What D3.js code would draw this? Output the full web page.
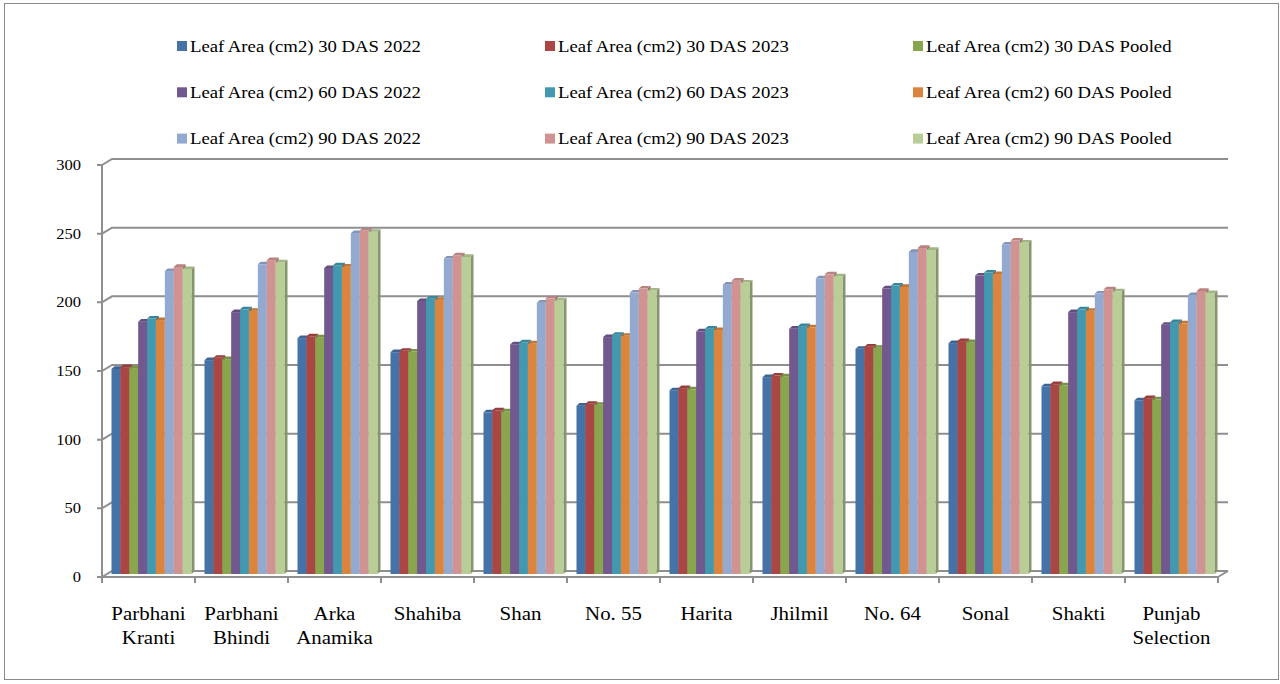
<!DOCTYPE html>
<html>
<head>
<meta charset="utf-8">
<script src="https://cdn.jsdelivr.net/npm/d3@7"></script>
<style>
  html, body { margin: 0; padding: 0; background: #fff; }
  svg { display: block; }
  text { font-family: "Liberation Serif", "Times New Roman", serif; fill: #000; }
</style>
</head>
<body>
<svg id="chart" width="1280" height="684"></svg>
<script>
// Okra varieties
const categories = [
  "Parbhani Kranti", "Parbhani Bhindi", "Arka Anamika", "Shahiba", "Shan", "No. 55",
  "Harita", "Jhilmil", "No. 64", "Sonal", "Shakti", "Punjab Selection"
];
const categoryLines = [
  ["Parbhani", "Kranti"], ["Parbhani", "Bhindi"], ["Arka", "Anamika"], ["Shahiba"], ["Shan"], ["No. 55"],
  ["Harita"], ["Jhilmil"], ["No. 64"], ["Sonal"], ["Shakti"], ["Punjab", "Selection"]
];

const seriesNames = [
  "Leaf Area (cm2) 30 DAS 2022", "Leaf Area (cm2) 30 DAS 2023", "Leaf Area (cm2) 30 DAS Pooled",
  "Leaf Area (cm2) 60 DAS 2022", "Leaf Area (cm2) 60 DAS 2023", "Leaf Area (cm2) 60 DAS Pooled",
  "Leaf Area (cm2) 90 DAS 2022", "Leaf Area (cm2) 90 DAS 2023", "Leaf Area (cm2) 90 DAS Pooled"
];

const das30_2022   = [149.3, 155.7, 171.7, 161.5, 117.7, 122.6, 133.8, 143.3, 164.0, 168.1, 136.7, 126.5];
const das30_2023   = [150.6, 157.4, 173.0, 162.5, 119.2, 123.9, 135.3, 144.5, 165.5, 169.6, 138.2, 128.0];
const das30_pooled = [149.9, 156.4, 172.4, 162.0, 118.4, 123.2, 134.5, 143.9, 164.7, 168.8, 137.4, 127.2];
const das60_2022   = [183.7, 190.7, 222.8, 198.8, 167.2, 172.5, 176.6, 178.6, 208.0, 217.3, 190.7, 181.5];
const das60_2023   = [186.0, 192.7, 224.8, 200.5, 168.6, 174.2, 178.6, 180.5, 210.0, 219.5, 192.7, 183.4];
const das60_pooled = [184.9, 191.7, 223.8, 199.7, 167.9, 173.4, 177.6, 179.6, 209.0, 218.4, 191.7, 182.5];
const das90_2022   = [220.6, 225.5, 248.2, 229.7, 197.6, 204.9, 210.7, 215.3, 234.5, 239.9, 204.2, 203.1];
const das90_2023   = [223.6, 228.5, 250.1, 232.1, 200.7, 207.8, 213.6, 218.2, 237.4, 242.8, 207.3, 206.1];
const das90_pooled = [222.1, 227.0, 249.2, 230.9, 199.2, 206.4, 212.2, 216.8, 236.0, 241.4, 205.8, 204.6];

const seriesValues = [
  das30_2022, das30_2023, das30_pooled,
  das60_2022, das60_2023, das60_pooled,
  das90_2022, das90_2023, das90_pooled
];

const seriesColors = [
  "#4572A7", "#AA4643", "#89A54E",
  "#71588F", "#4198AF", "#DB843D",
  "#93A9CF", "#D19392", "#B9CD96"
];

const yTicks = [0, 50, 100, 150, 200, 250, 300];

// ---- layout ----
const svg = d3.select("#chart");
const left = 102, right = 1218, floorY = 577, topY = 165;
const depthX = 10, depthY = -6;         // front-to-back offset of the 3D box
const stretch = 1.1;                    // wide text face
const gridColor = "#8f8f8f";

const x = d3.scaleBand().domain(categories).range([left, right]).padding(0);
const xInner = d3.scaleBand().domain(d3.range(seriesNames.length))
  .range([9.5, 9.5 + 80]).padding(0);
const y = d3.scaleLinear().domain([0, 300]).range([floorY, topY]);
const yBar = v => y(v) + depthY / 2;   // bars stand midway in depth

// outer frame
svg.append("rect")
  .attr("x", 4.5).attr("y", 3.5).attr("width", 1274).attr("height", 676)
  .attr("fill", "none").attr("stroke", "#8a8a8a").attr("stroke-width", 1);

// back-wall grid lines with side-wall diagonals and left ticks
const grid = svg.append("g").attr("fill", "none").attr("stroke", gridColor).attr("stroke-width", 2);
yTicks.forEach(v => {
  const yy = y(v);
  grid.append("path").attr("d", d3.line()([
    [left - 5, yy], [left, yy], [left + depthX, yy + depthY], [right + depthX, yy + depthY]
  ]));
});
// right edge of the floor
grid.append("path").attr("d", d3.line()([[right + depthX, floorY + depthY], [right, floorY]]));
// vertical axis
grid.append("path").attr("d", d3.line()([[left, y(300)], [left, floorY]]));
// front floor edge and category ticks
grid.append("path").attr("d", d3.line()([[left, floorY], [right, floorY]]));
const boundaries = categories.map(c => x(c)).concat([right]);
boundaries.forEach(bx => {
  grid.append("path").attr("d", d3.line()([[bx, floorY], [bx, floorY + 6]]));
});

// y tick labels
svg.append("g").selectAll("text").data(yTicks).join("text")
  .attr("text-anchor", "end")
  .attr("font-size", 15)
  .attr("transform", d => `translate(81,${y(d) + 5}) scale(${stretch},1)`)
  .text(d => d);

// bars: front face, right side, top
const dx = 3, dy = -2.6;
const bars = svg.append("g");
categories.forEach((cat, i) => {
  seriesValues.forEach((vals, j) => {
    const v = vals[i];
    const bx = x(cat) + xInner(j);
    const w = xInner.bandwidth();
    const yt = yBar(v), yb = yBar(0);
    const col = d3.color(seriesColors[j]);
    const g = bars.append("g");
    g.append("path")
      .attr("d", d3.line()([[bx + w, yt], [bx + w + dx, yt + dy], [bx + w + dx, yb + dy], [bx + w, yb]]) + "Z")
      .attr("fill", col.darker(0.9));
    g.append("rect")
      .attr("x", bx).attr("y", yt).attr("width", w).attr("height", yb - yt)
      .attr("fill", col);
    g.append("path")
      .attr("d", d3.line()([[bx, yt], [bx + dx, yt + dy], [bx + w + dx, yt + dy], [bx + w, yt]]) + "Z")
      .attr("fill", col.darker(0.35));
  });
});

// category labels
const xl = svg.append("g");
categories.forEach((cat, i) => {
  const cx = x(cat) + x.bandwidth() / 2;
  categoryLines[i].forEach((line, k) => {
    xl.append("text")
      .attr("text-anchor", "middle")
      .attr("font-size", 19)
      .attr("transform", `translate(${cx},${620 + k * 24}) scale(${stretch},1)`)
      .text(line);
  });
});

// legend: three columns, row-major
const legend = svg.append("g");
seriesNames.forEach((name, j) => {
  const col = j % 3, row = Math.floor(j / 3);
  const lx = 177 + col * 368, ly = 41 + row * 46.3;
  legend.append("rect")
    .attr("x", lx).attr("y", ly).attr("width", 10).attr("height", 10)
    .attr("fill", seriesColors[j]);
  legend.append("text")
    .attr("font-size", 17)
    .attr("transform", `translate(${lx + 13},${ly + 10.7}) scale(${stretch},1)`)
    .text(name);
});
</script>
</body>
</html>
